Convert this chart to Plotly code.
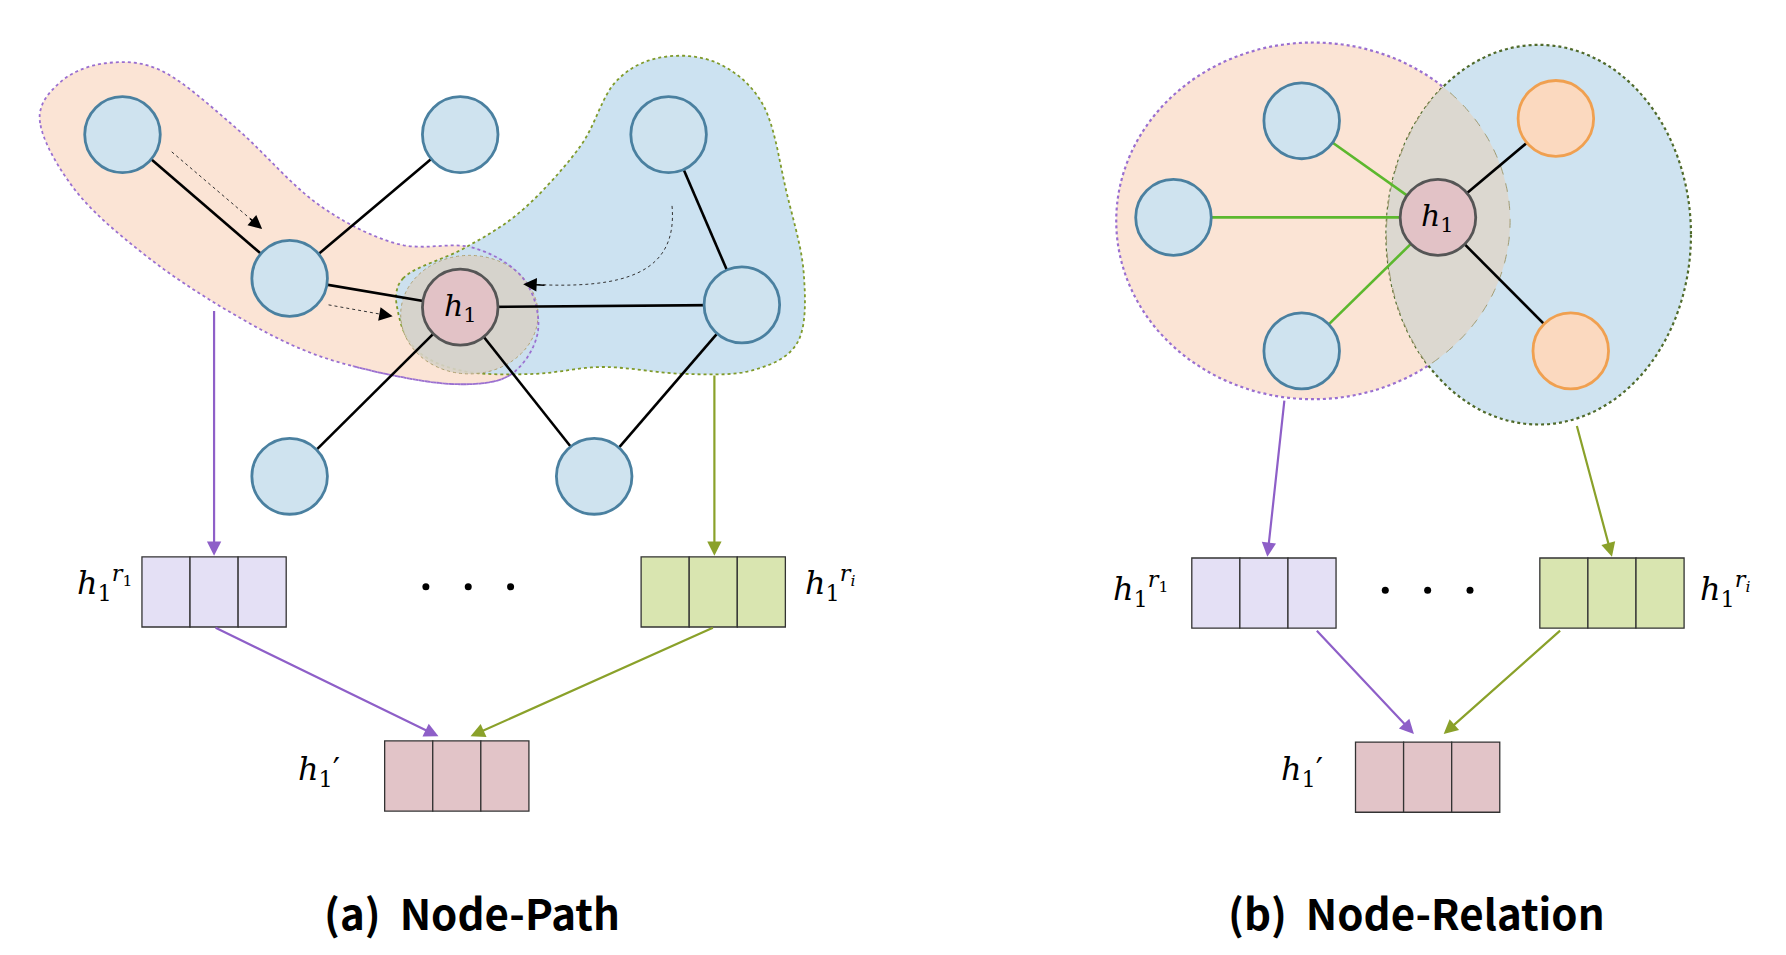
import numpy as np
import plotly.graph_objects as go

# image-pixel coordinate space
W, H = 1560, 830

# ---- panel (a) ----
a_nodes = [(100, 110), (395, 110), (577, 110), (246, 235), (641, 258), (246, 407), (512, 407)]
a_h1 = (395, 260)
a_edges = [((100, 110), (246, 235)), ((395, 110), (246, 235)), ((246, 235), (395, 260)),
           ((395, 260), (641, 258)), ((577, 110), (641, 258)), ((395, 260), (246, 407)),
           ((395, 260), (512, 407)), ((641, 258), (512, 407))]
orange_blob = [(28, 100), (45, 65), (85, 48), (135, 55), (200, 105), (270, 170), (340, 205), (405, 208),
               (450, 235), (463, 280), (440, 318), (395, 327), (330, 318), (260, 298), (190, 262),
               (120, 215), (60, 160)]
blue_blob = [(345, 235), (400, 208), (450, 175), (500, 120), (530, 65), (570, 43), (620, 48), (660, 85),
             (680, 160), (695, 230), (690, 290), (650, 315), (590, 318), (520, 312), (460, 318),
             (400, 316), (360, 300), (342, 270)]
# ---- panel (b) ----
b_h1 = (1249, 182)
b_blue = [(1130, 98), (1018, 182), (1130, 298)]
b_orange = [(1352, 96), (1365, 298)]
ell_a = (1140, 185, 172, 155)
ell_b = (1337, 197, 133, 165)

boxes = [  # x0, y0, colour
    (117, 477, "#e4e0f5"), (553, 477, "#d9e5b0"), (329, 637, "#e2c4c8"),
    (1034, 478, "#e4e0f5"), (1338, 478, "#d9e5b0"), (1177, 638, "#e2c4c8")]
arrows = [  # start, end, colour
    ((180, 262), (180, 476), "#8e5fc8"), ((617, 318), (617, 476), "#8aa12a"),
    ((180, 538), (376, 633), "#8e5fc8"), ((617, 538), (404, 633), "#8aa12a"),
    ((1115, 340), (1100, 477), "#8e5fc8"), ((1370, 362), (1401, 477), "#8aa12a"),
    ((1142, 540), (1228, 631), "#8e5fc8"), ((1357, 540), (1254, 631), "#8aa12a")]
dots = [(365, 503), (402, 503), (439, 503), (1203, 506), (1240, 506), (1277, 506)]
labels = [(85, 500, "<sup><i>r</i><sub>1</sub></sup>"), (718, 500, "<sup><i>r<sub>i</sub></i></sup>"),
          (272, 663, "′"), (990, 505, "<sup><i>r</i><sub>1</sub></sup>"),
          (1500, 505, "<sup><i>r<sub>i</sub></i></sup>"), (1130, 663, "′")]
captions = [(405, 785, "(a)  Node-Path"), (1230, 785, "(b)  Node-Relation")]

PURPLE = "#9a6fd0"
GREEN = "#7f9a2a"
R = 33

fig = go.Figure()
shapes, ann = [], []


def poly_path(pts, close=True):
    return "M " + " L ".join(f"{x:.1f},{y:.1f}" for x, y in pts) + (" Z" if close else "")


def smooth(pts, n=12):
    # closed Catmull-Rom spline through the outline points
    p = np.array(pts, float)
    out = []
    m = len(p)
    for i in range(m):
        p0, p1, p2, p3 = p[i - 1], p[i], p[(i + 1) % m], p[(i + 2) % m]
        for t in np.linspace(0, 1, n, endpoint=False):
            t2, t3 = t * t, t * t * t
            out.append(0.5 * ((2 * p1) + (-p0 + p2) * t + (2 * p0 - 5 * p1 + 4 * p2 - p3) * t2
                              + (-p0 + 3 * p1 - 3 * p2 + p3) * t3))
    return [tuple(q) for q in out]


def ellipse_pts(e, n=200):
    cx, cy, rx, ry = e
    t = np.linspace(0, 2 * np.pi, n)
    return np.c_[cx + rx * np.cos(t), cy + ry * np.sin(t)]


def inside(e, pts):
    cx, cy, rx, ry = e
    return ((pts[:, 0] - cx) / rx) ** 2 + ((pts[:, 1] - cy) / ry) ** 2 <= 1


# blobs
orange_s = smooth(orange_blob)
shapes.append(dict(type="path", path=poly_path(orange_s), fillcolor="#fbe4d5",
                   line=dict(color=PURPLE, width=1.8, dash="dot"), layer="below"))
shapes.append(dict(type="path", path=poly_path(smooth(blue_blob)), fillcolor="rgba(200,224,240,0.92)",
                   line=dict(color=GREEN, width=1.8, dash="dot"), layer="below"))
shapes.append(dict(type="circle", x0=343, x1=463, y0=215, y1=318, fillcolor="rgba(215,210,200,0.9)",
                   line=dict(color="#b0a070", width=1, dash="dot"), layer="below"))
# redraw the purple outline segment that lies over the blue blob
shapes.append(dict(type="path", path=poly_path(orange_s[84:150], close=False),
                   line=dict(color=PURPLE, width=1.8, dash="dot")))

# right ellipses and lens
for e, fc, lc in [(ell_a, "#fbe4d5", PURPLE), (ell_b, "#cfe3f0", "#4f6a2a")]:
    cx, cy, rx, ry = e
    shapes.append(dict(type="circle", x0=cx - rx, x1=cx + rx, y0=cy - ry, y1=cy + ry, fillcolor=fc,
                       line=dict(color=lc, width=2.2, dash="dot"), layer="below"))
pa, pb = ellipse_pts(ell_a, 720), ellipse_pts(ell_b, 720)
lens = np.vstack([pa[inside(ell_b, pa)], pb[inside(ell_a, pb)]])
c = lens.mean(axis=0)
lens = lens[np.argsort(np.arctan2(lens[:, 1] - c[1], lens[:, 0] - c[0]))]
shapes.append(dict(type="path", path=poly_path(lens), fillcolor="#dcd8d0",
                   line=dict(color="#a09a70", width=1, dash="dash")))

# edges
for (x0, y0), (x1, y1) in a_edges:
    shapes.append(dict(type="line", x0=x0, y0=y0, x1=x1, y1=y1, line=dict(color="black", width=2.6)))
for (x, y) in b_blue:
    shapes.append(dict(type="line", x0=x, y0=y, x1=b_h1[0], y1=b_h1[1], line=dict(color="#5cb82e", width=2.6)))
for (x, y) in b_orange:
    shapes.append(dict(type="line", x0=x, y0=y, x1=b_h1[0], y1=b_h1[1], line=dict(color="black", width=2.6)))


def node(x, y, fc, lc):
    shapes.append(dict(type="circle", x0=x - R, x1=x + R, y0=y - R, y1=y + R, fillcolor=fc,
                       line=dict(color=lc, width=2.8)))


for x, y in a_nodes + b_blue:
    node(x, y, "#cfe3ef", "#4a80a0")
for x, y in b_orange:
    node(x, y, "#fbd9bf", "#f0a050")
for x, y in [a_h1, b_h1]:
    node(x, y, "#e2c2c6", "#555555")
    ann.append(dict(x=x, y=y, text="<i>h</i><sub>1</sub>", showarrow=False,
                    font=dict(family="DejaVu Serif", size=30, color="black")))

# dotted guide arrows
for (x0, y0), (x1, y1) in [((143, 125), (222, 192)), ((280, 258), (336, 268))]:
    shapes.append(dict(type="line", x0=x0, y0=y0, x1=x1, y1=y1, line=dict(color="#333", width=1, dash="dot")))
    ann.append(dict(x=x1, y=y1, ax=x1 - (x1 - x0) * 0.15, ay=y1 - (y1 - y0) * 0.15, xref="x", yref="y",
                    axref="x", ayref="y", showarrow=True, arrowhead=2, arrowsize=1.8, arrowwidth=1.5,
                    arrowcolor="black", text=""))
shapes.append(dict(type="path", path="M 580,172 C 585,230 540,245 455,240",
                   line=dict(color="#333", width=1, dash="dot")))
ann.append(dict(x=450, y=240, ax=470, ay=241, xref="x", yref="y", axref="x", ayref="y", showarrow=True,
                arrowhead=2, arrowsize=1.8, arrowwidth=1.5, arrowcolor="black", text=""))

# boxes
for x0, y0, col in boxes:
    for k in range(3):
        shapes.append(dict(type="rect", x0=x0 + 42 * k, x1=x0 + 42 * (k + 1), y0=y0, y1=y0 + 61,
                           fillcolor=col, line=dict(color="#333", width=1.3)))

# arrows
for (x0, y0), (x1, y1), col in arrows:
    ann.append(dict(x=x1, y=y1, ax=x0, ay=y0, xref="x", yref="y", axref="x", ayref="y", showarrow=True,
                    arrowhead=2, arrowsize=1.3, arrowwidth=2.2, arrowcolor=col, text=""))

fig.add_trace(go.Scatter(x=[d[0] for d in dots], y=[d[1] for d in dots], mode="markers",
                         marker=dict(color="black", size=7), hoverinfo="skip"))

for x, y, s in labels:
    ann.append(dict(x=x, y=y, showarrow=False, text=f"<i>h</i><sub>1</sub>{s}",
                    font=dict(family="DejaVu Serif", size=32, color="black")))
for x, y, s in captions:
    ann.append(dict(x=x, y=y, showarrow=False, text=f"<b>{s}</b>",
                    font=dict(family="Noto Sans CJK SC", size=42, color="black")))

fig.update_layout(width=1786, height=955, margin=dict(l=0, r=0, t=0, b=0), plot_bgcolor="white",
                  paper_bgcolor="white", showlegend=False, shapes=shapes, annotations=ann,
                  xaxis=dict(range=[0, W], visible=False, fixedrange=True),
                  yaxis=dict(range=[H, 0], visible=False, fixedrange=True))
fig.write_html("out.html")
